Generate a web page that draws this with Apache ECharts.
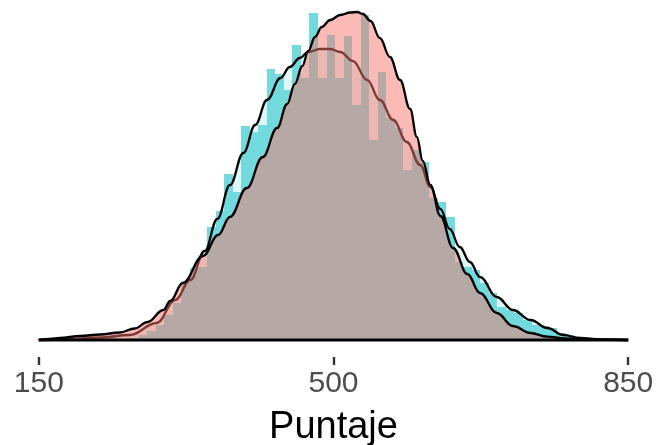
<!DOCTYPE html>
<html><head><meta charset="utf-8">
<script src="https://cdn.jsdelivr.net/npm/echarts@6/dist/echarts.min.js"></script>
<style>
html,body{margin:0;padding:0;background:#fff;}
#chart{width:661px;height:445px;}
#chart canvas[data-zr-dom-id="zr_1"]{opacity:0.5;}
</style></head><body><div id="chart"></div>
<script>
// ---- data (density values are x1000) ----
const tickValues = [150, 500, 850];
const xTitle = 'Puntaje';
const firstBinCenter = 151.9;
const binWidth = 10.145;

const cyanBars = [0,0,0,0,0,0,0,0,0,0,0,0.02,0.05,0.09,0.15,0.25,0.37,0.58,0.72,0.73,
  1.13,1.29,1.66,1.48,2.14,2.08,2.15,2.71,2.66,2.50,2.95,2.62,3.27,2.62,3.05,2.62,3.04,2.35,3.25,2.00,
  2.68,2.22,2.12,1.70,1.90,1.78,1.42,1.38,1.23,0.78,0.73,0.70,0.57,0.47,0.33,0.30,0.27,0.20,0.15,0.14,
  0.12,0.07,0.05,0.03,0.02,0.02,0.01,0,0,0];
const salmonBars = [0.01,0,0.01,0.02,0.02,0.03,0.04,0.05,0.05,0.06,0.07,0.09,0.12,0.18,0.24,0.33,0.42,0.52,0.60,0.85,
  0.88,0.98,1.10,1.25,1.40,1.55,1.72,1.90,2.05,2.28,2.50,2.72,2.95,3.05,3.10,3.15,3.17,3.16,3.12,3.02,
  2.88,2.70,2.50,2.25,1.95,1.62,1.35,1.10,0.90,0.75,0.60,0.50,0.38,0.30,0.21,0.14,0.10,0.06,0.05,0.03,
  0.02,0.02,0.01,0.01,0,0.01,0,0,0,0];

const cyanDensX = [150,179,223,258,290,312,330,347,362,377,393,407,421,437,448,460,470,484,496,508,
  523,540,555,571,587,603,615,627,638,650,662,674,694,713,734,754,773,793,817,850];
const cyanDensY = [0,0.005,0.025,0.05,0.17,0.40,0.60,0.89,1.21,1.55,1.87,2.15,2.40,2.62,2.73,2.82,2.88,2.91,2.91,2.88,
  2.79,2.60,2.40,2.20,1.98,1.75,1.53,1.31,1.11,0.93,0.78,0.63,0.43,0.30,0.20,0.12,0.05,0.02,0.005,0];

const salmonDensX = [150,163,175,199,223,246,264,279,298,306,321,345,363,377,397,416,433,445,454,463,
  470,478,486,496,508,520,528,535,544,555,567,579,591,599,606,615,627,642,659,674,694,713,734,754,773,817,850];
const salmonDensY = [0,0.01,0.02,0.04,0.055,0.075,0.115,0.18,0.30,0.39,0.57,0.84,1.05,1.23,1.52,1.83,2.12,2.36,2.56,2.74,
  2.89,3.03,3.13,3.20,3.25,3.275,3.28,3.26,3.19,3.02,2.83,2.60,2.31,2.03,1.79,1.55,1.24,0.92,0.66,0.47,0.27,0.14,0.07,0.033,0.017,0.005,0];

// ---- build ----
const binCenters = cyanBars.map((_, k) => firstBinCenter + k * binWidth);
const zip = (xs, ys) => xs.map((x, i) => [x, ys[i]]);

function barSeries(values, zlevel, color) {
  return {
    type: 'custom', zlevel: zlevel, z: 2, silent: true, clip: false,
    data: values.map((v, k) => [binCenters[k], v]),
    renderItem: function (params, api) {
      const c = api.value(0), v = api.value(1);
      if (!v) return null;
      const p0 = api.coord([c - binWidth / 2, v]);
      const p1 = api.coord([c + binWidth / 2, 0]);
      const x0 = Math.round(p0[0]), x1 = Math.round(p1[0]);
      const yb = Math.round(p1[1]);
      return { type: 'rect', shape: { x: x0, y: p0[1], width: x1 - x0, height: yb - p0[1] },
               style: { fill: color } };
    }
  };
}
function densFill(xs, ys, zlevel, color) {
  return { type: 'line', zlevel: zlevel, z: 1, silent: true, showSymbol: false, symbol: 'none',
    smooth: 0.4, smoothMonotone: 'x', data: zip(xs, ys),
    lineStyle: { width: 0, opacity: 0 }, areaStyle: { color: color, opacity: 1 } };
}
function densLine(xs, ys, zlevel, color, width) {
  return { type: 'line', zlevel: zlevel, z: 3, silent: true, showSymbol: false, symbol: 'none',
    smooth: 0.4, smoothMonotone: 'x', data: zip(xs, ys),
    lineStyle: { width: width, color: color } };
}

const chart = echarts.init(document.getElementById('chart'), null, { renderer: 'canvas' });
chart.setOption({
  animation: false,
  backgroundColor: '#ffffff',
  grid: { left: 38.8, right: 32.8, top: 10, bottom: 88, containLabel: false, outerBoundsMode: 'none' },
  xAxis: {
    type: 'value', position: 'bottom', min: 150, max: 850,
    splitLine: { show: false }, axisLine: { show: false, onZero: false },
    axisTick: { show: true, inside: false, length: 8, customValues: tickValues, lineStyle: { color: '#333333', width: 2.4 } },
    axisLabel: { inside: false, customValues: tickValues, fontSize: 30, color: '#4D4D4D', fontFamily: 'Liberation Sans, Arial', margin: 12 },
    name: xTitle, nameLocation: 'middle', nameGap: 52,
    nameTextStyle: { fontSize: 38, color: '#000000', fontFamily: 'Liberation Sans, Arial' }
  },
  yAxis: { type: 'value', min: -0.17, max: 3.3, show: false },
  series: [
    densFill(cyanDensX, cyanDensY, 0, 'rgb(224,247,248)'),
    barSeries(cyanBars, 0, 'rgb(114,218,221)'),
    densLine(cyanDensX, cyanDensY, 0, '#000000', 2.3),
    densFill(salmonDensX, salmonDensY, 1, '#F8766D'),
    barSeries(salmonBars, 1, '#F8766D'),
    densLine(salmonDensX, salmonDensY, 2, '#000000', 2.3),
    { type: 'line', zlevel: 2, z: 4, silent: true, showSymbol: false, symbol: 'none',
      data: [[salmonDensX[0], 0], [salmonDensX[salmonDensX.length - 1], 0]],
      lineStyle: { width: 3, color: '#000000' } }
  ]
});
</script></body></html>
